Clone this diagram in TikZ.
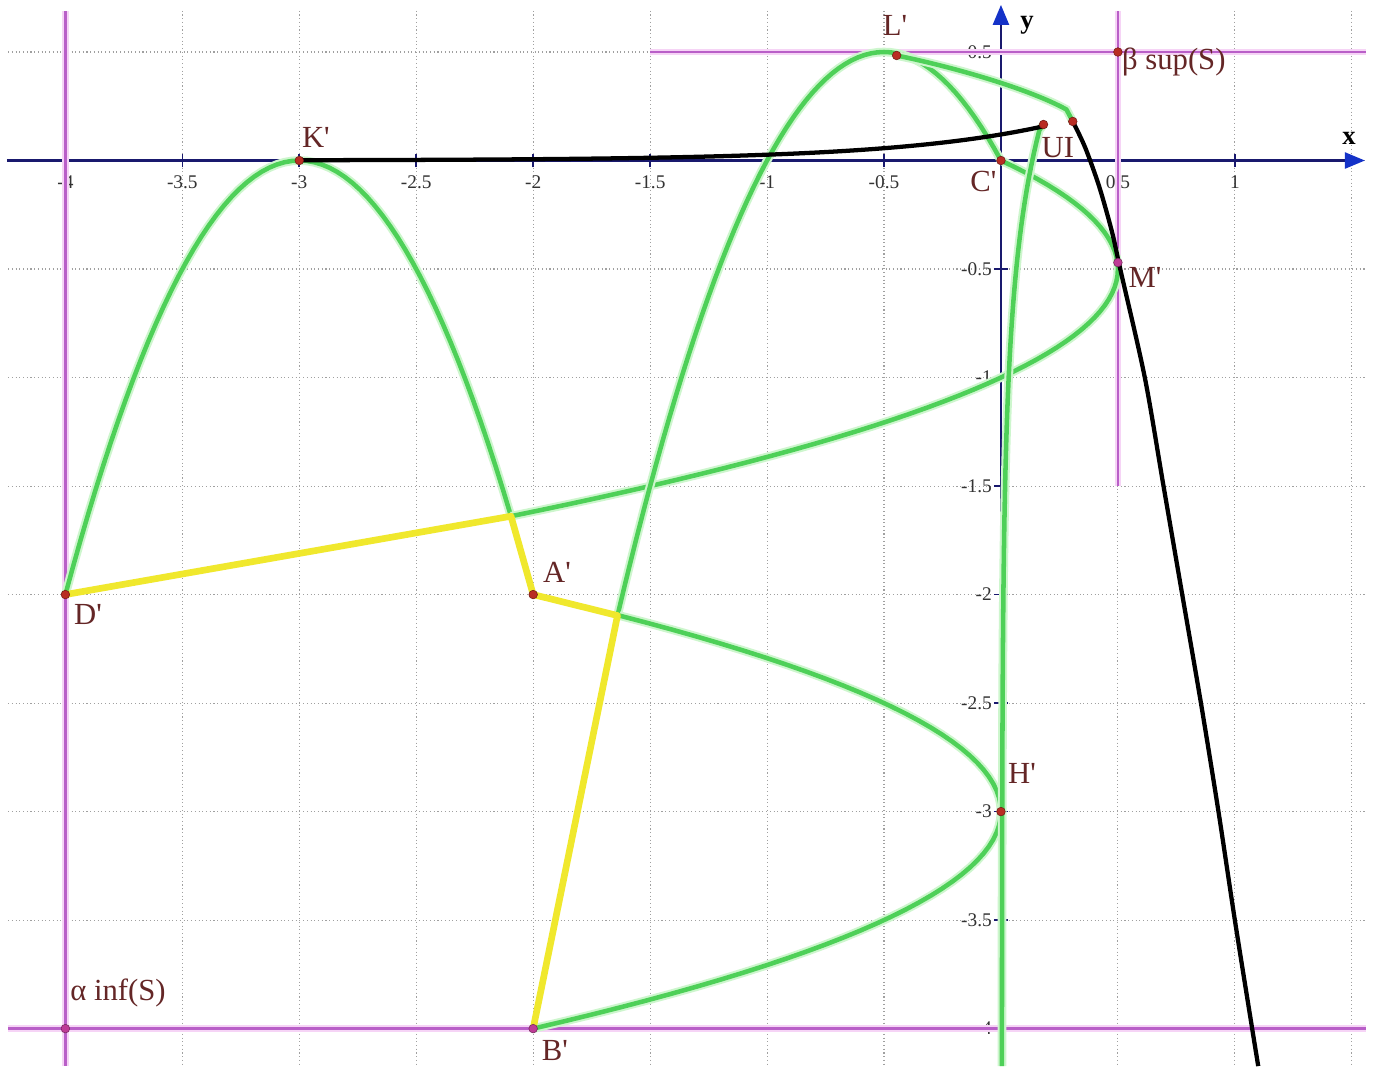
\documentclass[tikz,border=0pt]{standalone}
\usepackage{fontspec}
\setmainfont{Liberation Serif}
\usetikzlibrary{arrows.meta}
\definecolor{gridc}{RGB}{160,160,160}
\definecolor{axisc}{RGB}{25,25,110}
\definecolor{arrowc}{RGB}{20,50,200}
\definecolor{magc}{RGB}{185,95,200}
\definecolor{magglow}{RGB}{246,212,246}
\definecolor{grn}{RGB}{78,208,88}
\definecolor{grnglow}{RGB}{205,246,205}
\definecolor{yel}{RGB}{240,232,45}
\definecolor{lblc}{RGB}{100,38,38}
\definecolor{ptc}{RGB}{185,45,35}
\definecolor{ptm}{RGB}{190,60,150}
\begin{document}
\begin{tikzpicture}[x=175.4pt,y=162.75pt,
  gridline/.style={gridc, line width=0.8pt, dotted},
  axisline/.style={axisc, line width=1.8pt},
  tickmark/.style={axisc, line width=1.2pt},
  magline/.style={magc, line width=2pt, preaction={draw=magglow, line width=5pt}},
  grncurve/.style={grn, line width=3.4pt, line join=round, preaction={draw=grnglow, line width=6.5pt}},
  yelseg/.style={yel, line width=5pt, line join=round},
  blkcurve/.style={black, line width=3.2pt, line join=round},
  ptdot/.style={circle, fill=ptc, draw=ptc!60!black, line width=0.4pt, inner sep=0pt, minimum size=6.5pt},
  ptdotm/.style={ptdot, fill=ptm, draw=ptm!60!black},
  lbl/.style={lblc, font=\fontsize{23}{23}\selectfont, inner sep=0pt},
  ticklbl/.style={black!80, font=\fontsize{14.5}{14.5}\selectfont, inner sep=0pt},
  axlbl/.style={black, font=\bfseries\fontsize{20}{20}\selectfont, inner sep=0pt}
]
\useasboundingbox (-4.2796,-4.1728) rectangle (1.612,0.7396);
\fill[white] (-4.2796,-4.1728) rectangle (1.612,0.7396);

% grid
\foreach \gx in {-4,-3.5,...,1.5} \draw[gridline] (\gx,0.69) -- (\gx,-4.1728);
\foreach \gy in {0.5,0,...,-4} \draw[gridline] (-4.245,\gy) -- (1.56,\gy);

% axes
\coordinate (xs) at (-4.25,0);
\coordinate (xe) at (1.556,0);
\coordinate (ys) at (0,-4.1728);
\coordinate (ye) at (0,0.717);
\draw[axisline, -{Triangle[length=15pt,width=12pt,color=arrowc]}] (xs) -- (xe);
\draw[axisline, -{Triangle[length=15pt,width=12pt,color=arrowc]}] (ys) -- (ye);
\foreach \gx in {-4,-3.5,-3,-2.5,-2,-1.5,-1,-0.5,0.5,1}
  \draw[tickmark] (\gx,-0.032) -- (\gx,0.032);
\foreach \gy in {0.5,-0.5,-1,-1.5,-2,-2.5,-3,-3.5,-4}
  \draw[tickmark] (-0.03,\gy) -- (0.03,\gy);
\foreach \gx/\t [count=\i] in {-4/-4,-3.5/-3.5,-3/-3,-2.5/-2.5,-2/-2,-1.5/-1.5,-1/-1,-0.5/-0.5,0.5/0.5,1/1}
  \node[ticklbl] (tx\i) at (\gx,-0.1) {\t};
\foreach \gy/\t [count=\i] in {0.5/0.5,-0.5/-0.5,-1/-1,-1.5/-1.5,-2/-2,-2.5/-2.5,-3/-3,-3.5/-3.5,-4/-4}
  \node[ticklbl, anchor=east] (ty\i) at (-0.038,\gy) {\t};

% bound lines
\draw[magline] (-4,0.69) -- (-4,-4.1728);
\draw[magline] (0.5,0.69) -- (0.5,-1.5);
\draw[magline] (-1.5,0.5) -- (1.56,0.5);
\draw[magline] (-4.245,-4) -- (1.56,-4);

% key points
\coordinate (K) at (-3,0);
\coordinate (L) at (-0.446,0.484);
\coordinate (C) at (0,0);
\coordinate (U) at (0.182,0.166);
\coordinate (I) at (0.307,0.18);
\coordinate (M) at (0.5,-0.47);
\coordinate (A) at (-2,-2);
\coordinate (D) at (-4,-2);
\coordinate (H) at (0,-3);
\coordinate (B) at (-2,-4);
\coordinate (alpha) at (-4,-4);
\coordinate (beta) at (0.5,0.5);
\coordinate (P1) at (-2.0948,-1.639);
\coordinate (P2) at (-1.6394,-2.0965);

% green curves
\draw[grncurve] plot[domain=-4:-2.0948, samples=60] (\x,{-2*(\x+3)^2});
\draw[grncurve] plot[domain=-1.639:0, samples=60, variable=\t] ({0.5-2*(\t+0.5)^2},\t);
\draw[grncurve] plot[domain=-1.6394:0, samples=60] (\x,{0.5-2*(\x+0.5)^2});
\draw[grncurve] plot[domain=-4:-2.0965, samples=60, variable=\t] ({-2*(\t+3)^2},\t);
\draw[grncurve] (L) .. controls (-0.2,0.43) and (0.12,0.33) .. (0.28,0.235) -- (I);
\draw[grncurve] plot[domain=-4.1728:0.14, samples=80, variable=\t] ({0.13*exp(1.5*\t)+0.004},\t) -- (U);

% yellow path
\draw[yelseg] (D) -- (P1) -- (A) -- (P2) -- (B);

% black curves
\draw[blkcurve] plot[domain=-3:0.175, samples=80] (\x,{0.12*exp(1.5*\x)}) -- (U);
\draw[blkcurve] plot[smooth, tension=0.5] coordinates {(I) (0.36,0.06) (0.42,-0.12) (0.475,-0.33) (0.51,-0.5) (0.615,-1) (0.695,-1.5) (0.775,-2) (0.855,-2.5) (0.93,-3) (1.0,-3.5) (1.074,-4) (1.1,-4.1728)};

% dots
\foreach \p in {K,L,C,U,I,A,D,H,beta}
  \node[ptdot] (dot\p) at (\p) {};
\foreach \p in {M,B,alpha}
  \node[ptdotm] (dot\p) at (\p) {};

% labels
\node[lbl] (lK) at (-2.929,0.104) {K\textquotesingle};
\node[lbl] (lL) at (-0.453,0.624) {L\textquotesingle};
\node[lbl] (lC) at (-0.075,-0.095) {C\textquotesingle};
\node[lbl] (lUI) at (0.243,0.058) {UI};
\node[lbl] (lM) at (0.616,-0.541) {M\textquotesingle};
\node[lbl] (lA) at (-1.898,-1.9) {A\textquotesingle};
\node[lbl] (lD) at (-3.903,-2.094) {D\textquotesingle};
\node[lbl] (lH) at (0.09,-2.822) {H\textquotesingle};
\node[lbl] (lB) at (-1.907,-4.099) {B\textquotesingle};
\node[lbl, anchor=west] (lalpha) at (-3.98,-3.836) {α inf(S)};
\node[lbl, anchor=west] (lbeta) at (0.517,0.454) {β sup(S)};
\node[axlbl] (ly) at (0.111,0.624) {y};
\node[axlbl] (lx) at (1.488,0.104) {x};
\end{tikzpicture}
\end{document}
